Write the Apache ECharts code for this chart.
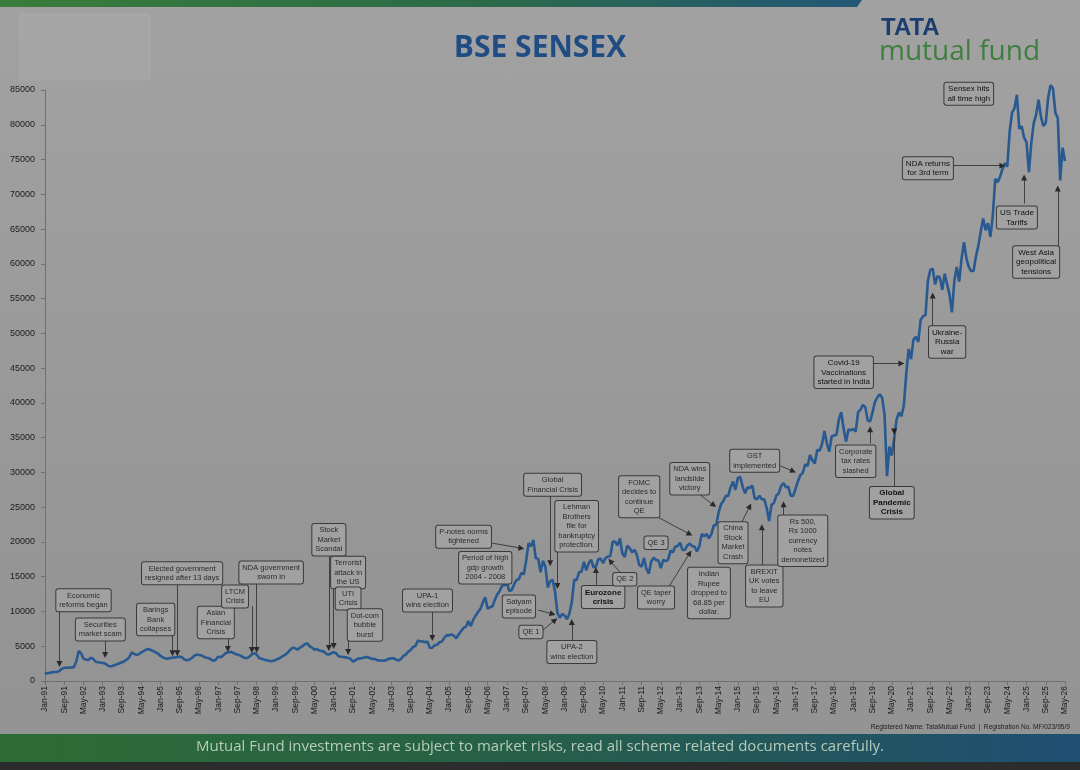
<!DOCTYPE html>
<html>
<head>
<meta charset="utf-8">
<script src="https://cdn.jsdelivr.net/npm/echarts@6/dist/echarts.min.js"></script>
<style>
html,body{margin:0;padding:0;}
#c{width:1080px;height:770px;background:linear-gradient(#a2a2a2,#969696 70%,#939393);}
</style>
</head>
<body>
<div id="c"></div>
<script>
// ---- categories (monthly, Jan-91 .. May-26) ----
const monthNames = ['Jan','Feb','Mar','Apr','May','Jun','Jul','Aug','Sep','Oct','Nov','Dec'];
const firstYear = 1991, lastYear = 2026, lastMonthCount = 5;
const categories = [];
for (let y = firstYear; y <= lastYear; y++) {
  const n = (y === lastYear) ? lastMonthCount : 12;
  for (let k = 0; k < n; k++) categories.push(monthNames[k] + '-' + String(y).slice(2));
}

// ---- series values (month-end BSE Sensex) ----
const y1991 = [1000,1150,1170,1250,1290,1300,1450,1750,1900,1900,1920,1950];
const y1992 = [2000,2800,4300,4000,3200,3100,3000,3350,3200,2800,2700,2650];
const y1993 = [2600,2500,2250,2100,2150,2300,2400,2550,2700,2850,3100,3400];
const y1994 = [4100,3900,3750,3850,4100,4300,4500,4600,4450,4300,4100,3950];
const y1995 = [3600,3400,3250,3200,3300,3350,3400,3450,3500,3400,3100,3000];
const y1996 = [3050,3300,3600,3800,3750,3700,3500,3350,3300,3100,2900,3050];
const y1997 = [3500,3400,3650,4000,4100,4200,4100,3900,3800,3700,3500,3300];
const y1998 = [3300,3500,3850,4000,3800,3300,3200,3100,3000,2900,2850,2900];
const y1999 = [3050,3200,3400,3600,3800,4100,4500,4800,4700,4500,4800,5000];
const y2000 = [5300,5400,5000,4800,4500,4600,4400,4300,4200,3900,3800,4000];
const y2001 = [4150,4000,3550,3500,3450,3400,3300,3200,2800,2950,3200,3250];
const y2002 = [3300,3400,3450,3300,3150,3200,3000,2950,2950,2900,3050,3200];
const y2003 = [3250,3280,3050,2960,3180,3610,3790,4240,4450,4910,5040,5840];
const y2004 = [5700,5670,5590,5650,4760,4800,5170,5190,5580,5670,6230,6600];
const y2005 = [6560,6710,6490,6150,6720,7190,7640,7810,8630,7890,8790,9400];
const y2006 = [9920,10370,11280,12040,10400,10610,10740,11700,12450,12960,13700,13790];
const y2007 = [14090,12940,13070,13870,14540,14650,15550,15320,17290,19840,19360,20290];
const y2008 = [17650,17580,15640,17290,16420,13460,14360,14560,12860,9790,9090,9650];
const y2009 = [9420,8890,9710,11400,14620,14490,15670,15670,17130,15900,16930,17460];
const y2010 = [16360,16430,17530,17560,16940,17700,17870,17970,20070,20030,19520,20510];
const y2011 = [18330,17820,19450,19140,18500,18850,18200,16680,16450,17700,16120,15450];
const y2012 = [17190,17750,17400,17320,16220,17430,17240,17430,18760,18500,19340,19430];
const y2013 = [19890,18860,18840,19500,19760,19400,19350,18620,19380,21160,20790,21170];
const y2014 = [20510,21120,22390,22420,24220,25410,25890,26640,26630,27870,28690,27500];
const y2015 = [29180,29360,27960,27010,27830,27780,28110,26280,26150,26660,26150,26120];
const y2016 = [24870,23000,25340,25610,26670,26990,28050,28450,27870,27930,26650,26630];
const y2017 = [27650,28740,29620,29920,31150,30920,32510,31730,31280,33210,33150,34060];
const y2018 = [35960,34180,32970,35160,35320,35420,37610,38650,36230,34440,36190,36070];
const y2019 = [36260,35870,38670,39030,39710,39390,37480,37330,38670,40130,40790,41250];
const y2020 = [40720,38300,29470,33720,32420,34920,37610,38630,38070,39610,44150,47750];
const y2021 = [46290,49100,49510,48780,51940,52480,52590,57550,59130,59310,57060,58250];
const y2022 = [58010,56250,58570,57060,55570,53020,57570,59540,57430,60750,63100,60840];
const y2023 = [59550,58960,58990,61110,62620,64720,66530,64830,65830,63870,66990,72240];
const y2024 = [71750,72500,73650,74480,73960,79030,81740,82370,84300,79390,79800,78140];
const y2025 = [77500,73200,77400,80240,81450,83600,81180,79810,80270,83940,85700,85220];
const y2026 = [81700,81000,72000,76700,74800];
const sensex = [].concat(y1991,y1992,y1993,y1994,y1995,y1996,y1997,y1998,y1999,y2000,
  y2001,y2002,y2003,y2004,y2005,y2006,y2007,y2008,y2009,y2010,y2011,y2012,y2013,
  y2014,y2015,y2016,y2017,y2018,y2019,y2020,y2021,y2022,y2023,y2024,y2025,y2026);

// ---- y axis ticks ----
const yMin = 0, yMax = 85000, yStep = 5000;

// ---- annotations: [text, boxMonthIdx, boxValue, arrowFromIdx, arrowFromVal, arrowToIdx, arrowToVal, style]
const notes = [
  ['Economic\nreforms began', 16, 11600, 6, 10050, 6, 2450],
  ['Securities\nmarket scam', 23, 7400, 25, 6030, 25, 3750],
  ['Barings\nBank\ncollapses', 46, 8830, 53, 6900, 53, 4000],
  ['Elected government\nresigned after 13 days', 57, 15500, 55, 14080, 55, 4000],
  ['Asian\nFinancial\nCrisis', 71, 8400, 76, 6460, 76, 4600],
  ['LTCM\nCrisis', 79, 12140, 86, 10770, 86, 4450],
  ['NDA government\nsworn in', 94, 15590, 88, 14220, 88, 4450],
  ['Stock\nMarket\nScandal', 118, 20330, 118, 18390, 118, 4740],
  ['Terrorist\nattack in\nthe US', 126, 15590, 120, 13650, 120, 5030],
  ['UTI\nCrisis', 126, 11850],
  ['Dot-com\nbubble\nburst', 133, 8040, 126, 6180, 126, 4170],
  ['UPA-1\nwins election', 159, 11560, 161, 10200, 161, 6180],
  ['P-notes norms\ntightened', 174, 20760, 186, 19820, 198, 19100],
  ['Period of high\ngdp growth\n2004 - 2008', 183, 16300],
  ['Global\nFinancial Crisis', 211, 28230, 210, 26860, 210, 16950],
  ['Lehman\nBrothers\nfile for\nbankruptcy\nprotection.', 221, 22270, 213, 19100, 213, 13650],
  ['Satyam\nepisode', 197, 10700, 205, 10200, 211, 9630],
  ['QE 1', 202, 7040, 207, 7330, 212, 8760],
  ['UPA-2\nwins election', 219, 4170, 219, 5600, 219, 8480],
  ['Eurozone\ncrisis', 232, 12070, 229, 13650, 229, 15950, 'bold'],
  ['QE 2', 241, 14650, 239, 15660, 235, 17240],
  ['FOMC\ndecides to\ncontinue\nQE', 247, 26500, 254, 23700, 268, 21120],
  ['QE 3', 254, 19900],
  ['QE taper\nworry', 254, 12000, 259, 13360, 268, 18390],
  ['NDA wins\nlandslide\nvictory', 268, 29090, 272, 26860, 278, 25280],
  ['Indian\nRupee\ndropped to\n68.85 per\ndollar.', 276, 12640],
  ['China\nStock\nMarket\nCrash', 286, 19900, 289, 22410, 293, 25140],
  ['BREXIT\nUK votes\nto leave\nEU', 299, 13650, 298, 16230, 298, 22120],
  ['GST\nimplemented', 295, 31680, 305, 31030, 311, 30170],
  ['Rs 500,\nRs 1000\ncurrency\nnotes\ndemonetized', 315, 20180, 307, 23420, 307, 25430],
  ['Corporate\ntax rates\nslashed', 337, 31600, 343, 34190, 343, 36200],
  ['Global\nPandemic\nCrisis', 352, 25640, 353, 27720, 353, 35000, 'bold', 'down'],
  ['Covid-19\nVaccinations\nstarted in India', 332, 44390, 344, 45680, 356, 45680, 'dark'],
  ['Ukraine-\nRussia\nwar', 375, 48770, 369, 50850, 369, 55450, 'dark'],
  ['NDA returns\nfor 3rd term', 367, 73760, 377, 74120, 398, 74120, 'dark'],
  ['Sensex hits\nall time high', 384, 84470, 395, 85620, 415, 85620, 'dark'],
  ['US Trade\nTariffs', 404, 66650, 407, 68670, 407, 72400, 'dark'],
  ['West Asia\ngeopolitical\ntensions', 412, 60260, 421, 62490, 421, 70820, 'dark']
];

const boxPoints = notes.map(n => {
  const style = n[7];
  return {
    name: n[0],
    coord: [n[1], n[2]],
    label: {
      color: style ? '#111' : '#2b2b2b',
      fontWeight: style === 'bold' ? 'bold' : 'normal',
      fontFamily: style ? 'Liberation Sans Narrow, Liberation Sans, sans-serif' : 'Liberation Sans, sans-serif',
      fontSize: style ? 8 : 7.5
    }
  };
});
// down-pointing arrowhead for the pandemic note
notes.filter(n => n[8] === 'down').forEach(n => {
  boxPoints.push({
    name: '', coord: [n[5], n[6] + 900], symbol: 'triangle', symbolSize: [6, 6], symbolRotate: 180,
    itemStyle: {color: '#1e1e1e'}, label: {show: false}
  });
});
const arrows = notes.filter(n => n.length > 3).map(n => [
  {coord: [n[3], n[4]]},
  {coord: [n[5], n[6]], symbol: n[8] === 'down' ? 'none' : 'triangle'}
]);

const chart = echarts.init(document.getElementById('c'), null, {renderer: 'canvas'});
chart.setOption({
  animation: false,
  backgroundColor: 'transparent',
  grid: {left: 45, right: 15, top: 90, bottom: 89},
  xAxis: {
    type: 'category',
    data: categories,
    boundaryGap: false,
    axisLine: {lineStyle: {color: '#707070', width: 1}},
    axisTick: {show: true, interval: 7, length: 4, lineStyle: {color: '#707070'}},
    axisLabel: {interval: 7, rotate: 90, fontSize: 8.5, color: '#1c1c1c', margin: 5,
      fontFamily: 'Liberation Sans, sans-serif'},
    splitLine: {show: false}
  },
  yAxis: {
    type: 'value',
    min: yMin, max: yMax, interval: yStep,
    axisLine: {show: true, lineStyle: {color: '#707070', width: 1}},
    axisTick: {show: true, length: 4, lineStyle: {color: '#707070'}},
    axisLabel: {fontSize: 9, color: '#1c1c1c', margin: 10, fontFamily: 'Liberation Sans, sans-serif',
      formatter: v => String(v)},
    splitLine: {show: false}
  },
  series: [{
    type: 'line',
    data: sensex,
    symbol: 'none',
    clip: false,
    smooth: false,
    lineStyle: {color: '#285a91', width: 2.6},
    markLine: {
      silent: true,
      z: 4,
      symbol: ['none', 'triangle'],
      symbolSize: 6,
      label: {show: false},
      lineStyle: {color: '#2a2a2a', width: 0.8, type: 'solid'},
      emphasis: {disabled: true},
      data: arrows
    },
    markPoint: {
      silent: true,
      z: 6,
      symbol: 'rect',
      symbolSize: 1,
      itemStyle: {color: 'rgba(0,0,0,0)'},
      label: {
        show: true,
        position: 'inside',
        formatter: '{b}',
        align: 'center',
        fontSize: 7.5,
        lineHeight: 9.5,
        color: '#2b2b2b',
        backgroundColor: '#a1a1a1',
        borderColor: '#3a3a3a',
        borderWidth: 1,
        borderRadius: 2,
        padding: [2, 3, 1, 3]
      },
      emphasis: {disabled: true},
      data: boxPoints
    }
  }],
  graphic: [
    {type: 'polygon', silent: true, z: 1,
      shape: {points: [[0, 0], [862, 0], [857, 7], [0, 7]]},
      style: {fill: new echarts.graphic.LinearGradient(0, 0, 1, 0, [
        {offset: 0, color: '#3a7c3a'}, {offset: 0.55, color: '#2e6a48'}, {offset: 1, color: '#235777'}])}},
    {type: 'rect', silent: true, z: 1,
      shape: {x: 20, y: 14, width: 130, height: 66, r: 3},
      style: {fill: 'rgba(255,255,255,0.05)', stroke: 'rgba(255,255,255,0.07)', lineWidth: 1}},
    {type: 'text', silent: true, z: 1, left: 'center', top: 33,
      style: {text: 'BSE SENSEX', fill: '#1f4c83', font: 'bold 30px "Open Sans", sans-serif'}},
    {type: 'text', silent: true, z: 1, left: 881, top: 16,
      style: {text: 'TATA', fill: '#1c3d70', font: 'bold 24px "Liberation Sans", sans-serif'}},
    {type: 'text', silent: true, z: 1, left: 879, top: 38,
      style: {text: 'mutual fund', fill: '#3e7f3f', font: '28px "Open Sans", sans-serif'}},
    {type: 'text', silent: true, z: 1, right: 10, top: 724,
      style: {text: 'Registered Name: TataMutual Fund  |  Registration No. MF/023/95/9', fill: '#1e1e1e',
        font: '6.6px "Liberation Sans", sans-serif'}},
    {type: 'rect', silent: true, z: 1,
      shape: {x: 0, y: 734, width: 1080, height: 28},
      style: {fill: new echarts.graphic.LinearGradient(0, 0, 1, 0, [
        {offset: 0, color: '#2d6c33'}, {offset: 0.5, color: '#265f4a'}, {offset: 1, color: '#1f4e73'}])}},
    {type: 'rect', silent: true, z: 1,
      shape: {x: 0, y: 762, width: 1080, height: 8},
      style: {fill: '#2c2c2c'}},
    {type: 'text', silent: true, z: 2, left: 'center', top: 739,
      style: {text: 'Mutual Fund investments are subject to market risks, read all scheme related documents carefully.',
        fill: '#b8cab9', font: '15px "Open Sans", sans-serif'}}
  ]
});
</script>
</body>
</html>
